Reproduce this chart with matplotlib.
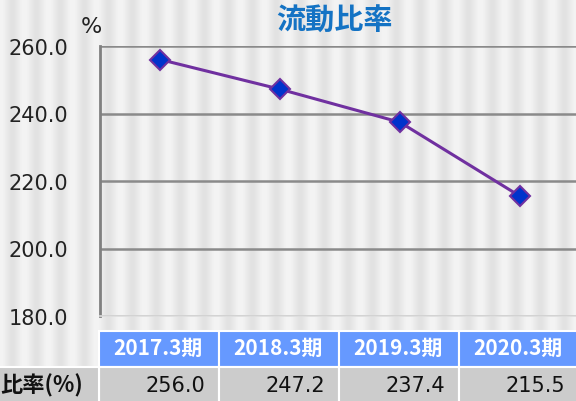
import matplotlib.pyplot as plt
from matplotlib.patches import Rectangle
import numpy as np

# データ
periods = ["2017.3期", "2018.3期", "2019.3期", "2020.3期"]
ratio = [256.0, 247.2, 237.4, 215.5]
yticks = [180.0, 200.0, 220.0, 240.0, 260.0]

W, H = 576, 402
fig = plt.figure(figsize=(W / 100, H / 100), dpi=100)

# 背景の縦縞
bg = fig.add_axes([0, 0, 1, 1])
xs = np.arange(W)
stripe = 0.92 + 0.035 * np.cos(2 * np.pi * xs / 24.0)
img = np.tile(stripe, (H, 1))
bg.imshow(img, cmap="gray", vmin=0, vmax=1, aspect="auto", extent=[0, W, H, 0])
bg.set_xlim(0, W)
bg.set_ylim(H, 0)
bg.axis("off")

def fx(px):
    return px / W

def fy(py):
    return 1 - py / H

# グラフ本体
ax = fig.add_axes([fx(100), fy(317), fx(580) - fx(100), fy(47) - fy(317)])
ax.patch.set_alpha(0)
x = np.arange(len(ratio))
ax.plot(x, ratio, color="#7030A0", lw=2.2, marker="D", ms=10,
        mfc="#0033CC", mec="#7030A0", mew=1.5, zorder=3)
ax.set_xlim(-0.5, len(ratio) - 0.5)
ax.set_ylim(180, 260)
ax.set_yticks(yticks)
ax.set_yticklabels([f"{v:.1f}" for v in yticks], fontsize=15, family="DejaVu Sans")
ax.tick_params(axis="y", length=0, pad=23, colors="#222222")
ax.set_xticks([])
ax.grid(axis="y", color="#8a8a8a", lw=1.8)
for s in ["top", "right"]:
    ax.spines[s].set_visible(False)
ax.spines["bottom"].set_color("#dddddd")
ax.spines["bottom"].set_linewidth(1.2)
ax.spines["left"].set_color("#808080")
ax.spines["left"].set_linewidth(2)

fig.text(fx(91), fy(27), "%", fontsize=16, ha="center", va="center", color="#222222")
fig.text(fx(334), fy(21), "流動比率", fontsize=21, fontweight="bold",
         color="#1473C4", ha="center", va="center", family="Noto Sans CJK JP")

# 表
edges = [99, 219, 339, 459, 580]
hdr_top, hdr_bot, row_bot = 332, 368, 404
for i, (p, v) in enumerate(zip(periods, ratio)):
    l, r = edges[i], edges[i + 1]
    fig.patches.append(Rectangle((fx(l), fy(hdr_bot)), fx(r - l), fy(hdr_top) - fy(hdr_bot),
                                 transform=fig.transFigure, fc="#6699FF", ec="white", lw=1.5))
    fig.patches.append(Rectangle((fx(l), fy(row_bot)), fx(r - l), fy(hdr_bot) - fy(row_bot),
                                 transform=fig.transFigure, fc="#CCCCCC", ec="white", lw=1.5))
    fig.text(fx(l + 59), fy(348), p, fontsize=15, fontweight="bold", color="white",
             ha="center", va="center", family="Noto Sans CJK JP")
    fig.text(fx(l + 106), fy(386), f"{v:.1f}", fontsize=15,
             ha="right", va="center", color="#111111", family="DejaVu Sans")
fig.patches.append(Rectangle((fx(-5), fy(row_bot)), fx(104), fy(hdr_bot) - fy(row_bot),
                             transform=fig.transFigure, fc="#CCCCCC", ec="white", lw=1.5))
fig.text(fx(83), fy(386), "比率(%)", fontsize=16, fontweight="bold", ha="right",
         va="center", color="#111111", family=["Noto Sans CJK JP", "DejaVu Sans"])

fig.savefig("out.png", dpi=100)
